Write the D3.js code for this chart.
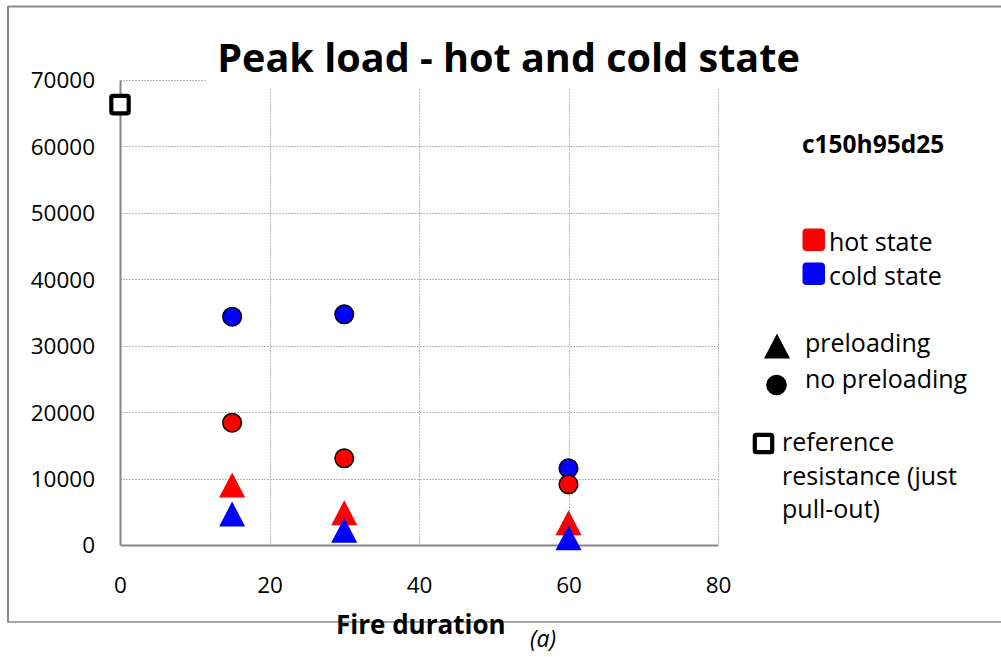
<!DOCTYPE html>
<html>
<head>
<meta charset="utf-8">
<script src="https://cdn.jsdelivr.net/npm/d3@7"></script>
<style>
  html, body { margin: 0; padding: 0; background: #fff; }
  svg { display: block; }
  text { font-family: "Open Sans", "DejaVu Sans", sans-serif; fill: #000; }
</style>
</head>
<body>
<svg id="chart" width="1001" height="657"></svg>
<script>
// ---- data ----
const durations = [15, 30, 60];
const hotPreloading = [9030, 4860, 3350];
const coldPreloading = [4670, 2210, 1080];
const hotNoPreloading = [18410, 13050, 9140];
const coldNoPreloading = [34370, 34730, 11550];
const referenceDuration = [0];
const referenceLoad = [66300];
const xTicks = [0, 20, 40, 60, 80];
const yTicks = [0, 10000, 20000, 30000, 40000, 50000, 60000, 70000];
const titleText = "Peak load - hot and cold state";
const xAxisTitle = "Fire duration";
const subLabel = "(a)";
const specimen = "c150h95d25";
const stateLabels = ["hot state", "cold state"];
const loadingLabels = ["preloading", "no preloading"];
const referenceLabel = ["reference", "resistance (just", "pull-out)"];

// ---- layout ----
const svg = d3.select("#chart");
const plot = { left: 120, right: 718, top: 80, bottom: 545 };
const x = d3.scaleLinear().domain([0, 80]).range([plot.left, plot.right]);
const y = d3.scaleLinear().domain([0, 70000]).range([plot.bottom, plot.top]);
const RED = "#ff0000", BLUE = "#0000ff";

// outer frame (chart area border, partially off-canvas on the right)
svg.append("line").attr("x1", 8).attr("x2", 1001).attr("y1", 6.5).attr("y2", 6.5)
  .attr("stroke", "#8a8a8a").attr("stroke-width", 2);
svg.append("line").attr("x1", 8).attr("x2", 8).attr("y1", 6).attr("y2", 622.5)
  .attr("stroke", "#8a8a8a").attr("stroke-width", 2);
svg.append("line").attr("x1", 8).attr("x2", 1001).attr("y1", 622).attr("y2", 622)
  .attr("stroke", "#8a8a8a").attr("stroke-width", 1.5);

// gridlines
const grid = svg.append("g");
grid.selectAll("line.h").data(yTicks.filter(d => d > 0)).join("line")
  .attr("x1", plot.left).attr("x2", plot.right)
  .attr("y1", d => Math.round(y(d)) + 0.5).attr("y2", d => Math.round(y(d)) + 0.5)
  .attr("stroke", "#b8b8b8").attr("stroke-width", 1).attr("stroke-dasharray", "2,1");
grid.selectAll("line.v").data(xTicks.filter(d => d > 0)).join("line")
  .attr("x1", d => Math.round(x(d)) + 0.5).attr("x2", d => Math.round(x(d)) + 0.5)
  .attr("y1", plot.top).attr("y2", plot.bottom)
  .attr("stroke", "#b8b8b8").attr("stroke-width", 1).attr("stroke-dasharray", "2,1");

// title backdrop hides grid under the title
svg.append("rect").attr("x", 207).attr("y", 20).attr("width", 540).attr("height", 69).attr("fill", "#fff");

// axes
const yAxis = d3.axisLeft(y).tickValues(yTicks).tickSize(0).tickPadding(25).tickFormat(d3.format("d"));
const gy = svg.append("g").attr("transform", `translate(${plot.left},0)`).call(yAxis);
gy.select(".domain").attr("stroke", "#868686").attr("stroke-width", 2);
gy.selectAll("text").attr("font-size", 22.5).attr("font-family", "Open Sans").attr("dy", "0.35em");

const xAxis = d3.axisBottom(x).tickValues(xTicks).tickSize(0).tickPadding(48).tickFormat(d3.format("d"));
const gx = svg.append("g").attr("transform", `translate(0,${plot.bottom})`).call(xAxis);
gx.select(".domain").attr("stroke", "#868686").attr("stroke-width", 2);
gx.selectAll("text").attr("font-size", 22.5).attr("font-family", "Open Sans").attr("dy", "0");

// title
svg.append("text").attr("x", 508.5).attr("y", 72).attr("text-anchor", "middle")
  .attr("font-size", 39.6).attr("font-weight", "bold").text(titleText);

// markers
const tri = (cx, cy) => `M${cx},${cy - 12.5}L${cx + 13},${cy + 12.5}L${cx - 13},${cy + 12.5}Z`;
const marks = svg.append("g");
marks.selectAll("circle.cold").data(durations).join("circle")
  .attr("cx", d => x(d)).attr("cy", (d, i) => y(coldNoPreloading[i])).attr("r", 9.3)
  .attr("fill", BLUE).attr("stroke", "#000").attr("stroke-width", 1.5);
marks.selectAll("circle.hot").data(durations).join("circle")
  .attr("cx", d => x(d)).attr("cy", (d, i) => y(hotNoPreloading[i])).attr("r", 9.3)
  .attr("fill", RED).attr("stroke", "#000").attr("stroke-width", 1.5);
marks.selectAll("path.hot").data(durations).join("path")
  .attr("d", (d, i) => tri(x(d), y(hotPreloading[i]))).attr("fill", RED);
marks.selectAll("path.cold").data(durations).join("path")
  .attr("d", (d, i) => tri(x(d), y(coldPreloading[i]))).attr("fill", BLUE);
marks.selectAll("rect.ref").data(referenceDuration).join("rect")
  .attr("x", d => x(d) - 8.7).attr("y", (d, i) => y(referenceLoad[i]) - 8.7)
  .attr("width", 17.4).attr("height", 17.4).attr("rx", 1.5)
  .attr("fill", "#fff").attr("stroke", "#000").attr("stroke-width", 4.2);

// axis title & sub label
svg.append("text").attr("x", 336).attr("y", 634).attr("font-size", 26).attr("font-weight", "bold").text(xAxisTitle);
svg.append("text").attr("x", 530).attr("y", 647).attr("font-size", 23).attr("font-style", "italic").text(subLabel);

// legend
const lg = svg.append("g");
lg.append("text").attr("x", 802).attr("y", 153).attr("font-size", 24.5).attr("font-weight", "bold").text(specimen);
const stateColors = [RED, BLUE];
stateLabels.forEach((t, i) => {
  const by = 251 + i * 34;
  lg.append("rect").attr("x", 802.5).attr("y", by - 22.5).attr("width", 22.5).attr("height", 22.5)
    .attr("rx", 4).attr("fill", stateColors[i]);
  lg.append("text").attr("x", 829).attr("y", by).attr("font-size", 25).text(t);
});
lg.append("path").attr("d", tri(777, 346)).attr("fill", "#000");
lg.append("circle").attr("cx", 776.5).attr("cy", 385).attr("r", 10.3).attr("fill", "#000");
loadingLabels.forEach((t, i) => {
  lg.append("text").attr("x", 805).attr("y", 352 + i * 36).attr("font-size", 25).text(t);
});
lg.append("rect").attr("x", 754.8).attr("y", 434.8).attr("width", 17.4).attr("height", 17.4).attr("rx", 1.5)
  .attr("fill", "#fff").attr("stroke", "#000").attr("stroke-width", 4.2);
referenceLabel.forEach((t, i) => {
  lg.append("text").attr("x", 782).attr("y", 451 + i * 33.5).attr("font-size", 25).text(t);
});
</script>
</body>
</html>
